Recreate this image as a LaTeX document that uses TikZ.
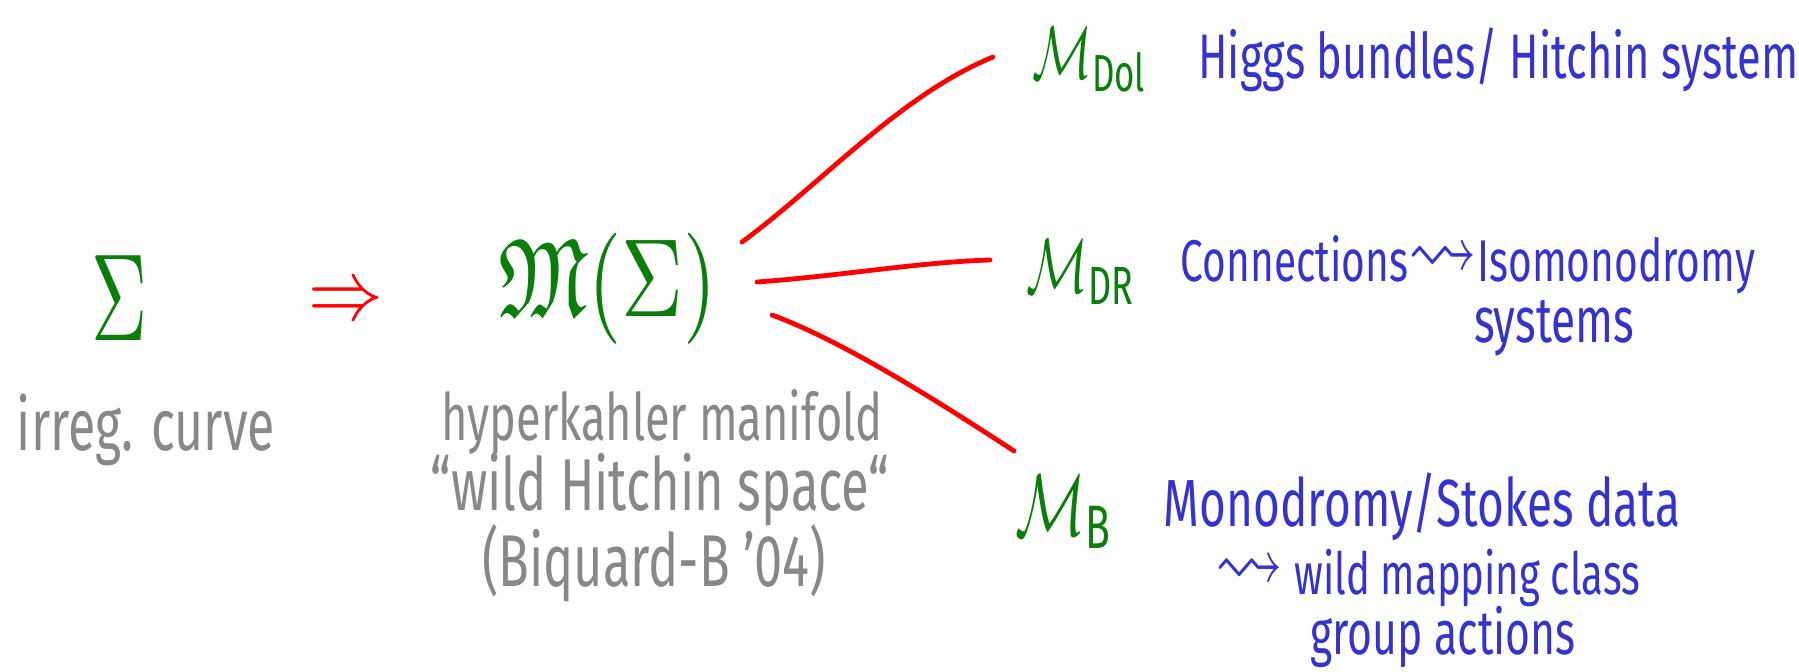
\documentclass[tikz,border=0pt]{standalone}
\usepackage{fontspec}
\usepackage{amssymb}
\usepackage{graphicx}
\setmainfont{Fira Sans}
\newlength\px \setlength\px{0.5pt}
\newcommand{\hw}[3][1.45]{\scalebox{1}[#1]{\resizebox{#2\px}{!}{#3}}}
\newcommand{\sq}{\raisebox{0.15ex}{\scalebox{1.7}[1.5]{$\leadsto$}}}
\definecolor{hgreen}{RGB}{10,125,10}
\definecolor{hblue}{RGB}{52,52,204}
\definecolor{hgray}{RGB}{136,136,136}
\definecolor{hred}{RGB}{255,0,0}
\begin{document}
\begin{tikzpicture}[x=0.5pt,y=-0.5pt,
  every node/.style={inner sep=0pt},
  grn/.style={text=hgreen},
  blu/.style={text=hblue},
  gry/.style={text=hgray},
  redt/.style={text=hred},
  redl/.style={draw=hred, line width=2.4pt, line cap=round}]
\useasboundingbox (0,0) rectangle (1799,671);
\fill[white] (0,0) rectangle (1799,671);

\node[grn] (sig) at (120,298) {\hw[1.6]{56}{$\Sigma$}};
\node[redt] (imp) at (346,304) {\hw[1.15]{75}{$\Rightarrow$}};
\node[grn] (MS) at (608,289) {\hw[1.3]{218}{$\mathfrak{M}(\Sigma)$}};

\node[gry] (irr) at (146,430) {\hw{258}{irreg. curve}};
\node[gry] (hk) at (662,422) {\hw{441}{hyperkahler manifold}};
\node[gry] (wh) at (660,490) {\hw{459}{“wild Hitchin space“}};
\node[gry] (bq) at (654,563) {\hw{344}{(Biquard-B ’04)}};

\node[grn] (Mdol) at (1090,60) {\hw[1.5]{115}{$\mathcal{M}_{\mathrm{Dol}}$}};
\node[grn] (Mdr) at (1081,272) {\hw[1.5]{109}{$\mathcal{M}_{\mathrm{DR}}$}};
\node[grn] (Mb) at (1064,512) {\hw[1.5]{98}{$\mathcal{M}_{\mathrm{B}}$}};

\node[blu, anchor=west] (higgs) at (1198,60) {\hw{600}{Higgs bundles/ Hitchin system}};
\node[blu] (conn) at (1468,265) {\hw{574}{Connections\sq Isomonodromy}};
\node[blu] (sys) at (1554,328) {\hw{160}{systems}};
\node[blu] (mono) at (1422,507) {\hw{516}{Monodromy/Stokes data}};
\node[blu] (wmc) at (1428,578) {\hw{424}{\sq\ wild mapping class}};
\node[blu] (grp) at (1443,637) {\hw{265}{group actions}};

\coordinate (a0) at (742,242);
\coordinate (a1) at (993,57);
\coordinate (b0) at (757,282);
\coordinate (b1) at (990,260);
\coordinate (c0) at (772,315);
\coordinate (c1) at (1014,451);
\draw[redl] (a0) .. controls (820,185) and (900,95) .. (a1);
\draw[redl] (b0) .. controls (840,276) and (920,262) .. (b1);
\draw[redl] (c0) .. controls (840,340) and (930,396) .. (c1);
\end{tikzpicture}
\end{document}
